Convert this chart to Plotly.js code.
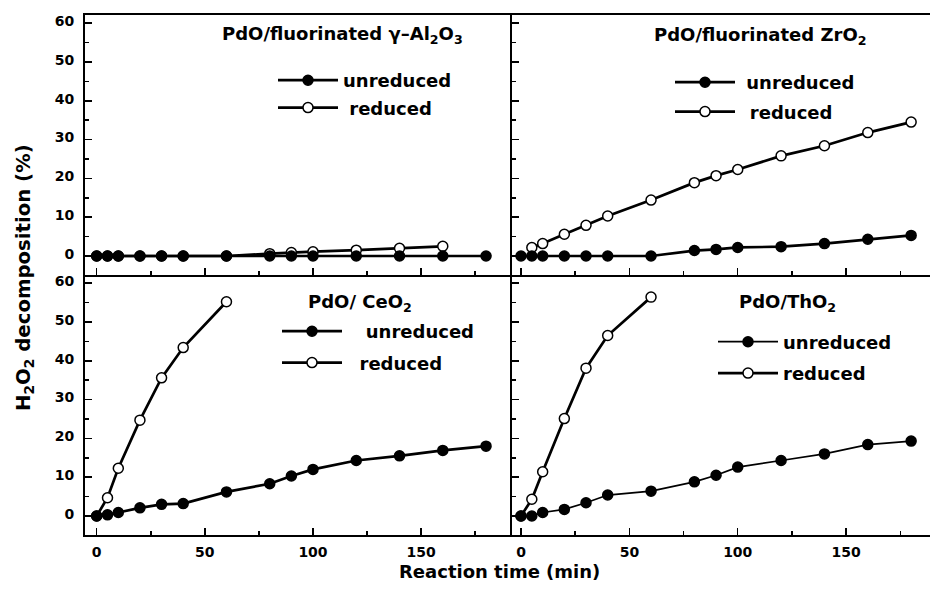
<!DOCTYPE html>
<html><head><meta charset="utf-8">
<script src="https://cdn.plot.ly/plotly-3.0.1.min.js"></script>
<style>html,body{margin:0;padding:0;background:#fff}</style>
</head><body><div id="chart" style="width:930px;height:591px"></div>
<script>
// ---- data ----
const times = [0, 5, 10, 20, 30, 40, 60, 80, 90, 100, 120, 140, 160, 180];
const timesAlReduced = [0, 5, 10, 20, 30, 40, 60, 80, 90, 100, 120, 140, 160];
const timesZrReduced = [5, 10, 20, 30, 40, 60, 80, 90, 100, 120, 140, 160, 180];
const timesShortReduced = [0, 5, 10, 20, 30, 40, 60];

const alUnreduced = [0, 0, 0, 0, 0, 0, 0, 0, 0, 0, 0, 0, 0, 0];
const alReduced = [0, 0, 0, 0, 0, 0, 0, 0.6, 0.9, 1.1, 1.5, 2.0, 2.5];
const zrUnreduced = [0, 0, 0, 0, 0, 0, 0, 1.4, 1.7, 2.2, 2.4, 3.2, 4.3, 5.3];
const zrReduced = [2.2, 3.2, 5.6, 7.9, 10.3, 14.4, 18.9, 20.7, 22.3, 25.8, 28.4, 31.8, 34.5];
const ceUnreduced = [0, 0.3, 0.9, 2.1, 3.0, 3.2, 6.2, 8.3, 10.3, 12.0, 14.3, 15.5, 16.9, 18.0];
const ceReduced = [0, 4.7, 12.3, 24.7, 35.6, 43.4, 55.2];
const thUnreduced = [0, 0, 0.9, 1.7, 3.4, 5.4, 6.4, 8.8, 10.5, 12.6, 14.3, 16.0, 18.4, 19.3];
const thReduced = [0, 4.3, 11.4, 25.1, 38.1, 46.5, 56.4];

const panelTitles = [
  'PdO/fluorinated γ–Al<sub>2</sub>O<sub>3</sub>',
  'PdO/fluorinated ZrO<sub>2</sub>',
  'PdO/ CeO<sub>2</sub>',
  'PdO/ThO<sub>2</sub>'
];
const seriesNames = [
  ['unreduced', '\u00a0reduced'],
  ['\u00a0unreduced', '\u00a0\u2009reduced'],
  ['\u00a0\u00a0\u00a0unreduced', '\u00a0\u00a0reduced'],
  ['unreduced', 'reduced']
];
const xTitle = 'Reaction time (min)';
const yTitle = 'H<sub>2</sub>O<sub>2</sub> decomposition (%)';

// ---- geometry helpers ----
const W = 930, H = 591, L = 85, R = 0, T = 15, B = 56;
const pw = W - L - R, ph = H - T - B;
const px = v => (v - L) / pw;
const py = v => (H - B - v) / ph;
const xSplit = px(512);
const FONT = 'DejaVu Sans';
const BLACK = '#000';

function mk(x, y, xa, ya, filled, name, lg, rank, lw) {
  return {
    type: 'scatter', mode: 'lines+markers', x: x, y: y, xaxis: xa, yaxis: ya,
    name: name, legend: lg, legendgroup: lg + name, legendrank: rank,
    line: {color: BLACK, width: lw},
    marker: {symbol: 'circle', size: 10, color: filled ? BLACK : '#fff',
             line: {color: BLACK, width: 1.5}},
    hoverinfo: 'x+y'
  };
}

const data = [
  mk(timesAlReduced, alReduced, 'x', 'y', false, seriesNames[0][1], 'legend', 2, 2.7),
  mk(times, alUnreduced, 'x', 'y', true, seriesNames[0][0], 'legend', 1, 2.7),
  mk(timesZrReduced, zrReduced, 'x2', 'y2', false, seriesNames[1][1], 'legend2', 2, 2.7),
  mk(times, zrUnreduced, 'x2', 'y2', true, seriesNames[1][0], 'legend2', 1, 2.7),
  mk(timesShortReduced, ceReduced, 'x3', 'y3', false, seriesNames[2][1], 'legend3', 2, 2.7),
  mk(times, ceUnreduced, 'x3', 'y3', true, seriesNames[2][0], 'legend3', 1, 2.7),
  mk(timesShortReduced, thReduced, 'x4', 'y4', false, seriesNames[3][1], 'legend4', 2, 2.7),
  mk(times, thUnreduced, 'x4', 'y4', true, seriesNames[3][0], 'legend4', 1, 1.7)
];

const tickFont = {family: FONT, size: 14, color: BLACK, weight: 'bold'};
function xax(domain, range, anchor, labels, mirror) {
  return {
    domain: domain, range: range, anchor: anchor,
    showline: true, linewidth: 2, linecolor: BLACK, mirror: mirror,
    ticks: 'inside', ticklen: 7, tickwidth: 1.5, tickcolor: BLACK,
    tick0: 0, dtick: 50,
    minor: {dtick: 25, tick0: 0, ticks: 'inside', ticklen: 4, tickwidth: 1.5, tickcolor: BLACK, showgrid: false},
    showgrid: false, zeroline: false, showticklabels: labels,
    tickfont: tickFont, ticklabelstandoff: 3, fixedrange: true
  };
}
function yax(domain, anchor, labels) {
  return {
    domain: domain, range: [-4.9, 62.1], anchor: anchor,
    showline: true, linewidth: 2, linecolor: BLACK, mirror: false,
    ticks: 'inside', ticklen: 7, tickwidth: 1.5, tickcolor: BLACK,
    tick0: 0, dtick: 10,
    minor: {dtick: 5, tick0: 0, ticks: 'inside', ticklen: 4, tickwidth: 1.5, tickcolor: BLACK, showgrid: false},
    showgrid: false, zeroline: false, showticklabels: labels,
    tickfont: tickFont, ticklabelstandoff: 6, ticklabelshift: -2, fixedrange: true
  };
}

const legFont = {family: FONT, size: 18, color: BLACK, weight: 'bold'};
function leg(xPix, topPix, gap) {
  return {x: px(xPix), y: py(topPix), xanchor: 'left', yanchor: 'top',
          bgcolor: 'rgba(0,0,0,0)', borderwidth: 0, font: legFont,
          itemwidth: 60, traceorder: 'grouped', tracegroupgap: gap,
          itemclick: false, itemdoubleclick: false};
}

const annFont = {family: FONT, size: 18, color: BLACK, weight: 'bold'};
function ann(text, xPix, yPix, xanchor, extra) {
  return Object.assign({text: text, xref: 'paper', yref: 'paper', x: px(xPix), y: py(yPix),
    xanchor: xanchor, yanchor: 'middle', showarrow: false, font: annFont}, extra || {});
}

const layout = {
  width: W, height: H,
  margin: {l: L, r: R, t: T, b: B, pad: 0},
  paper_bgcolor: '#fff', plot_bgcolor: '#fff',
  font: {family: FONT, color: BLACK},
  xaxis: xax([0, xSplit], [-5.4, 192], 'y', false, true),
  xaxis2: xax([xSplit, 1], [-4.15, 188.7], 'y2', false, true),
  xaxis3: xax([0, xSplit], [-5.4, 192], 'y3', true, false),
  xaxis4: xax([xSplit, 1], [-4.15, 188.7], 'y4', true, false),
  yaxis: yax([0.5, 1], 'x', true),
  yaxis2: yax([0.5, 1], 'x2', false),
  yaxis3: yax([0, 0.5], 'x3', true),
  yaxis4: yax([0, 0.5], 'x4', false),
  showlegend: true,
  legend: leg(273, 62, 1),
  legend2: leg(670, 64, 3),
  legend3: leg(277, 313, 5),
  legend4: leg(713, 323.5, 5),
  annotations: [
    ann(panelTitles[0], 220, 35, 'left'),
    ann(panelTitles[1], 652, 36, 'left'),
    ann(panelTitles[2], 306, 303, 'left'),
    ann(panelTitles[3], 737, 303, 'left'),
    ann(xTitle, 499, 571, 'center'),
    ann(yTitle, 24, 278, 'center', {textangle: -90, font: {family: FONT, size: 19.7, color: BLACK, weight: 'bold'}})
  ]
};

Plotly.newPlot('chart', data, layout, {displayModeBar: false, staticPlot: true});
</script>
</body></html>
